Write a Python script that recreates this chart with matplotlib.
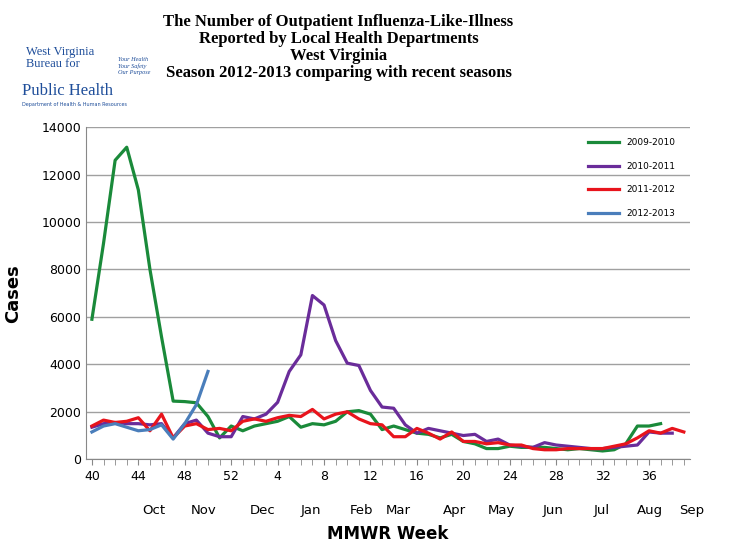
import matplotlib.pyplot as plt

seasons = ["2009-2010", "2010-2011", "2011-2012", "2012-2013"]
colors = ["#1a8a3a", "#6a2c9a", "#e8141c", "#4a7ebb"]

s0910 = [5900, 9100, 12600, 13150, 11350, 8000, 5150, 2450, 2430, 2380, 1800, 900, 1400, 1200, 1400,
         1500, 1600, 1800, 1350, 1500, 1450, 1600, 2000, 2050, 1900, 1250, 1400, 1250, 1100, 1050,
         900, 1050, 750, 650, 450, 450, 550, 500, 500, 500, 450, 400, 450, 400, 350, 400, 650,
         1400, 1400, 1500]
s1011 = [1350, 1500, 1550, 1500, 1500, 1450, 1500, 900, 1500, 1650, 1100, 950, 950, 1800, 1700,
         1900, 2400, 3700, 4400, 6900, 6500, 5000, 4050, 3950, 2900, 2200, 2150, 1450, 1100, 1300,
         1200, 1100, 1000, 1050, 750, 850, 600, 550, 500, 700, 600, 550, 500, 450, 450, 500, 550,
         600, 1150, 1100, 1100]
s1112 = [1400, 1650, 1550, 1600, 1750, 1200, 1900, 900, 1400, 1500, 1250, 1300, 1200, 1600, 1700,
         1600, 1750, 1850, 1800, 2100, 1700, 1900, 2000, 1700, 1500, 1450, 950, 950, 1300, 1100,
         850, 1150, 750, 750, 650, 700, 600, 600, 450, 400, 400, 450, 450, 450, 450, 550, 650,
         900, 1200, 1100, 1300, 1150]
s1213 = [1150, 1400, 1500, 1350, 1200, 1250, 1450, 850, 1500, 2300, 3700]
series = [s0910, s1011, s1112, s1213]

week_labels = ["40", "44", "48", "52", "4", "8", "12", "16", "20", "24", "28", "32", "36"]
months = ["Oct", "Nov", "Dec", "Jan", "Feb", "Mar", "Apr", "May", "Jun", "Jul", "Aug", "Sep"]
month_pos = [5.3, 9.6, 14.7, 18.9, 23.2, 26.4, 31.2, 35.3, 39.7, 43.9, 48.1, 51.7]

fig = plt.figure(figsize=(7.36, 5.5), dpi=100)
ax = fig.add_axes([0.117, 0.165, 0.82, 0.604])

for name, vals, c in zip(seasons, series, colors):
    ax.plot(range(len(vals)), vals, color=c, lw=2.3, label=name)

ax.set_xlim(-0.5, 51.5)
ax.set_ylim(0, 14000)
ax.set_yticks(range(0, 14001, 2000))
ax.yaxis.grid(True, color="#a0a0a0", lw=1)
ax.set_axisbelow(True)
ax.set_xticks(range(0, 49, 4))
ax.set_xticklabels(week_labels)
ax.set_xticks(range(0, 52), minor=True)
ax.tick_params(axis="x", which="both", direction="out", length=4, color="#888888", labelsize=9)
ax.tick_params(axis="y", length=0, labelsize=9)
for s in ["top", "right"]:
    ax.spines[s].set_visible(False)
for s in ["left", "bottom"]:
    ax.spines[s].set_color("#888888")

for m, p in zip(months, month_pos):
    ax.text(p, -1900, m, ha="center", va="top", fontsize=9.5)
ax.text(25.5, -2750, "MMWR Week", ha="center", va="top", fontsize=12, fontweight="bold")
ax.set_ylabel("Cases", fontsize=13, fontweight="bold", labelpad=14)

ax.legend(loc="upper right", bbox_to_anchor=(0.99, 0.99), frameon=False, fontsize=6.5,
          handlelength=3.5, labelspacing=1.6)

title = ("The Number of Outpatient Influenza-Like-Illness\nReported by Local Health Departments\n"
         "West Virginia\nSeason 2012-2013 comparing with recent seasons")
fig.text(0.46, 0.975, title, ha="center", va="top", fontsize=12, fontweight="bold",
         family="Liberation Serif", linespacing=1.1)

fig.text(0.035, 0.895, "West Virginia\nBureau for", color="#1f4e9a", fontsize=9,
         family="Liberation Serif", va="center", linespacing=0.95)
fig.text(0.03, 0.835, "Public Health", color="#1f4e9a", fontsize=12,
         family="Liberation Serif", va="center")
fig.text(0.03, 0.81, "Department of Health & Human Resources", color="#1f4e9a", fontsize=3.5,
         va="center")
fig.text(0.16, 0.88, "Your Health\nYour Safety\nOur Purpose", color="#1f4e9a", fontsize=4.5,
         family="Liberation Serif", style="italic", va="center")

fig.savefig("out.png")
